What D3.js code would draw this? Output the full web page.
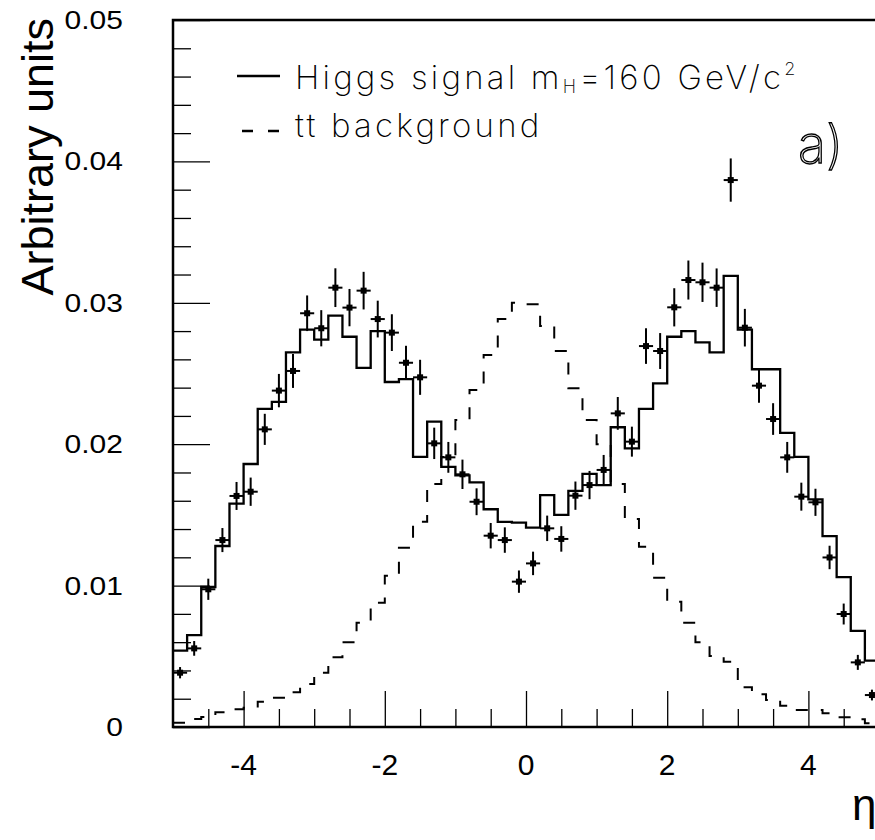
<!DOCTYPE html>
<html>
<head>
<meta charset="utf-8">
<script src="https://cdn.jsdelivr.net/npm/d3@7"></script>
<style>
  body { margin: 0; background: #fff; }
  .arial { font-family: "Liberation Sans", Arial, sans-serif; }
  .thin { font-family: Inter, "Open Sans", sans-serif; font-weight: 200; }
</style>
</head>
<body>
<script>
// 50 bins of width 0.2 in eta, from -5 to 5
const HIGGS = [
  0.0054, 0.0065, 0.0099, 0.0128, 0.0158, 0.0186, 0.0225, 0.0230, 0.0265, 0.0281,
  0.0274, 0.0291, 0.0276, 0.0254, 0.0280, 0.0244, 0.0246, 0.0191, 0.0216, 0.0184,
  0.0178, 0.0173, 0.0154, 0.0145, 0.01445, 0.0141, 0.0164, 0.0150, 0.0167, 0.0179,
  0.0171, 0.0212, 0.0197, 0.0225, 0.0243, 0.0276, 0.0280, 0.0272, 0.0265, 0.0319,
  0.0281, 0.0253, 0.0253, 0.0208, 0.0191, 0.0161, 0.0135, 0.0106, 0.0068, 0.0047
];

const TTBAR = [
  0.0003, 0.00057, 0.0007, 0.00104, 0.00125, 0.00137, 0.00179, 0.00207, 0.00245, 0.00304,
  0.00384, 0.00493, 0.00599, 0.00738, 0.00879, 0.0107, 0.01268, 0.01452, 0.01718, 0.0191,
  0.02171, 0.02383, 0.02631, 0.02885, 0.0300, 0.0299, 0.02836, 0.02659, 0.02395, 0.02171,
  0.0200, 0.01718, 0.01471, 0.01275, 0.01056, 0.00886, 0.00738, 0.00599, 0.00502, 0.00462,
  0.00281, 0.00231, 0.00191, 0.00151, 0.0012, 0.0012, 0.00097, 0.00069, 0.00054, 0.00026
];

const DATA = [
  0.00384, 0.00556, 0.00974, 0.01322, 0.01634, 0.01664, 0.02105, 0.02379, 0.02518, 0.02926,
  0.0282, 0.03107, 0.02966, 0.03086, 0.02885, 0.02789, 0.02576, 0.02473, 0.02006, 0.01907,
  0.01787, 0.01593, 0.01353, 0.01322, 0.01028, 0.01157, 0.01405, 0.0133, 0.01636, 0.01711,
  0.01818, 0.02218, 0.02018, 0.02694, 0.02659, 0.02968, 0.03161, 0.03145, 0.03107, 0.03868,
  0.02824, 0.02414, 0.02178, 0.01907, 0.01629, 0.01589, 0.01199, 0.00799, 0.00457, 0.00226
];

const DATA_ERR = [
  0.0004, 0.00052, 0.00075, 0.00085, 0.00099, 0.001, 0.0011, 0.00118, 0.0012, 0.00126,
  0.00128, 0.00137, 0.00132, 0.00133, 0.0013, 0.0013, 0.0012, 0.00124, 0.00111, 0.00109,
  0.00104, 0.00095, 0.0009, 0.0009, 0.00079, 0.00083, 0.0009, 0.0009, 0.001, 0.001,
  0.00106, 0.00116, 0.00106, 0.00126, 0.00127, 0.00135, 0.00138, 0.00139, 0.00136, 0.00153,
  0.00133, 0.00121, 0.00112, 0.00109, 0.00099, 0.00096, 0.00083, 0.00074, 0.00053, 0.00038
];

const X_TICKS = [-4, -2, 0, 2, 4];
const Y_TICKS = [0, 0.01, 0.02, 0.03, 0.04, 0.05];
const Y_LABELS = ["0", "0.01", "0.02", "0.03", "0.04", "0.05"];

const width = 875,
  height = 840,
  frame = { left: 173, top: 20, right: 879, bottom: 727 },
  binWidth = 0.2;

const binLow = HIGGS.map((d, i) => -5 + i * binWidth);

const svg = d3
  .select("body")
  .append("svg")
  .attr("width", width)
  .attr("height", height);

const xScale = d3.scaleLinear().domain([-5, 5]).range([frame.left, frame.right]);
const yScale = d3.scaleLinear().domain([0, 0.05]).range([frame.bottom, frame.top]);

// minor / major ticks, drawn inward
const xMinor = d3.range(-4.5, 5, 0.5).filter(v => !X_TICKS.includes(v));
const yMinor = d3.range(0.002, 0.05, 0.002).filter(v => Math.abs(v * 100 - Math.round(v * 100)) > 1e-6);

const axisX = (ticks, size) =>
  d3.axisBottom(xScale).tickValues(ticks).tickSize(-size).tickFormat("");
const axisY = (ticks, size) =>
  d3.axisLeft(yScale).tickValues(ticks).tickSize(-size).tickFormat("");

[[xMinor, 18], [X_TICKS, 36]].forEach(([t, s]) => {
  svg
    .append("g")
    .attr("transform", `translate(0, ${frame.bottom})`)
    .call(axisX(t, s))
    .call(g => g.select(".domain").remove())
    .selectAll("line")
    .attr("stroke-width", 1.3);
});

[[yMinor, 18], [Y_TICKS, 37]].forEach(([t, s]) => {
  svg
    .append("g")
    .attr("transform", `translate(${frame.left}, 0)`)
    .call(axisY(t, s))
    .call(g => g.select(".domain").remove())
    .selectAll("line")
    .attr("stroke-width", 1.3);
});

// frame
svg
  .append("rect")
  .attr("x", frame.left)
  .attr("y", frame.top)
  .attr("width", frame.right - frame.left)
  .attr("height", frame.bottom - frame.top)
  .attr("fill", "none")
  .attr("stroke", "#000")
  .attr("stroke-width", 2.5);

// tick labels
svg
  .selectAll(".xlab")
  .data(X_TICKS)
  .join("text")
  .attr("class", "xlab arial")
  .attr("x", d => xScale(d))
  .attr("y", 775)
  .attr("text-anchor", "middle")
  .attr("font-size", 30)
  .text(d => d);

svg
  .selectAll(".ylab")
  .data(Y_TICKS)
  .join("text")
  .attr("class", "ylab arial")
  .attr("transform", d => `translate(123, ${yScale(d) + 9}) scale(1.2, 1)`)
  .attr("text-anchor", "end")
  .attr("font-size", 25)
  .text((d, i) => Y_LABELS[i]);

// axis titles
svg
  .append("text")
  .attr("class", "arial")
  .attr("transform", "translate(53, 18) rotate(-90)")
  .attr("text-anchor", "end")
  .attr("font-size", 45)
  .text("Arbitrary units");

svg
  .append("text")
  .attr("class", "arial")
  .attr("x", 852)
  .attr("y", 820)
  .attr("font-size", 44)
  .text("η");

// histograms
const histPoints = values =>
  values.map((v, i) => [binLow[i], v]).concat([[5, values[values.length - 1]]]);

const stepLine = d3
  .line()
  .x(d => xScale(d[0]))
  .y(d => yScale(d[1]))
  .curve(d3.curveStepAfter);

const plot = svg.append("g");

plot
  .append("path")
  .attr("d", stepLine(histPoints(TTBAR)))
  .attr("fill", "none")
  .attr("stroke", "#000")
  .attr("stroke-width", 2)
  .attr("stroke-dasharray", "12,13");

plot
  .append("path")
  .attr("d", stepLine(histPoints(HIGGS)))
  .attr("fill", "none")
  .attr("stroke", "#000")
  .attr("stroke-width", 2.3);

// data points with error bars
const pts = plot
  .selectAll(".pt")
  .data(DATA)
  .join("g")
  .attr("class", "pt");

pts
  .append("line")
  .attr("x1", (d, i) => xScale(binLow[i]))
  .attr("x2", (d, i) => xScale(binLow[i] + binWidth))
  .attr("y1", d => yScale(d))
  .attr("y2", d => yScale(d))
  .attr("stroke", "#000")
  .attr("stroke-width", 2);

pts
  .append("line")
  .attr("x1", (d, i) => xScale(binLow[i] + binWidth / 2))
  .attr("x2", (d, i) => xScale(binLow[i] + binWidth / 2))
  .attr("y1", (d, i) => yScale(d - DATA_ERR[i]))
  .attr("y2", (d, i) => yScale(d + DATA_ERR[i]))
  .attr("stroke", "#000")
  .attr("stroke-width", 2);

pts
  .append("rect")
  .attr("x", (d, i) => xScale(binLow[i] + binWidth / 2) - 3)
  .attr("y", d => yScale(d) - 3)
  .attr("width", 6)
  .attr("height", 6)
  .attr("fill", "#000");

// legend
const legend = svg.append("g");

legend
  .append("line")
  .attr("x1", 237)
  .attr("x2", 280)
  .attr("y1", 76)
  .attr("y2", 76)
  .attr("stroke", "#000")
  .attr("stroke-width", 2.5);

legend
  .append("line")
  .attr("x1", 242)
  .attr("x2", 280)
  .attr("y1", 131)
  .attr("y2", 131)
  .attr("stroke", "#000")
  .attr("stroke-width", 2.5)
  .attr("stroke-dasharray", "11,15");

const l1 = legend
  .append("text")
  .attr("class", "thin")
  .attr("x", 295)
  .attr("y", 89)
  .attr("font-size", 33)
  .attr("letter-spacing", 3.2);

l1.append("tspan").text("Higgs signal m");
l1.append("tspan").attr("font-size", 18).attr("dy", 4).text("H");
l1.append("tspan").attr("dy", -4).text("=160 GeV/c");
l1.append("tspan").attr("font-size", 18).attr("dy", -14).text("2");

legend
  .append("text")
  .attr("class", "thin")
  .attr("x", 295)
  .attr("y", 137)
  .attr("font-size", 33)
  .attr("letter-spacing", 3.2)
  .text("tt background");

svg
  .append("text")
  .attr("class", "thin")
  .attr("x", 798)
  .attr("y", 163)
  .attr("font-size", 52)
  .attr("fill", "#fff")
  .attr("stroke", "#000")
  .attr("stroke-width", 1.3)
  .text("a)");
</script>
</body>
</html>
